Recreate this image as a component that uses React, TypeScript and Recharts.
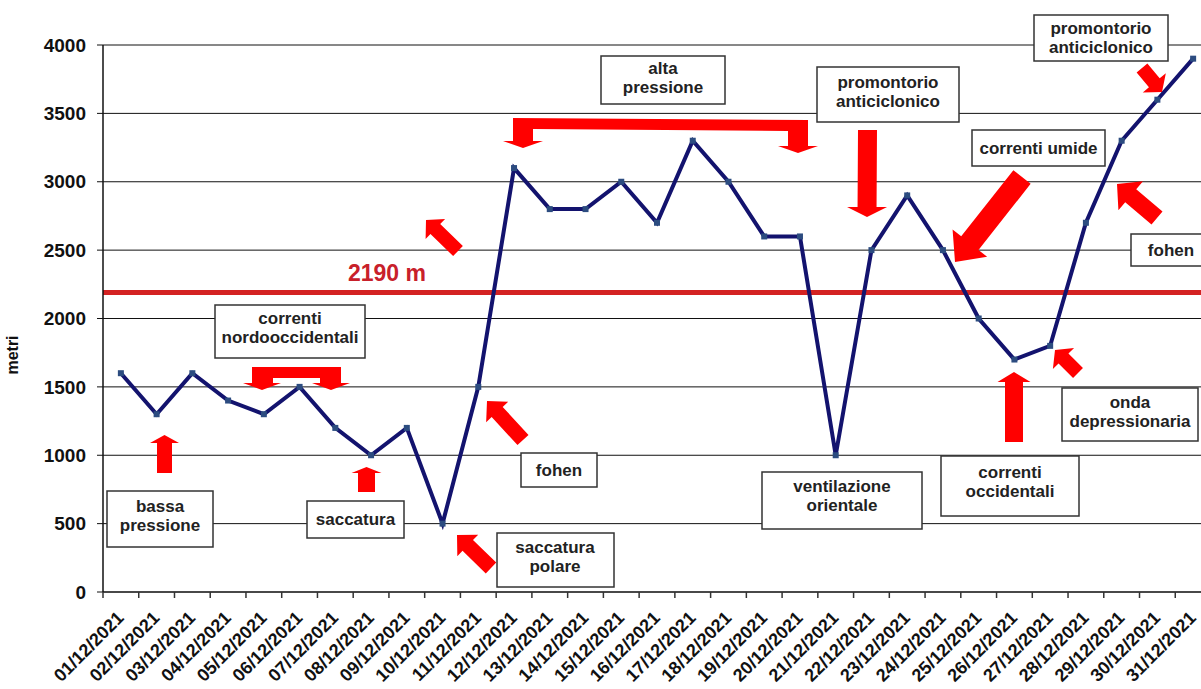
import React from 'react';
import { ComposedChart, Line, XAxis, YAxis, CartesianGrid, ReferenceLine } from 'recharts';

// daily values (metri)
const dates = [
  '01/12/2021', '02/12/2021', '03/12/2021', '04/12/2021', '05/12/2021', '06/12/2021', '07/12/2021',
  '08/12/2021', '09/12/2021', '10/12/2021', '11/12/2021', '12/12/2021', '13/12/2021', '14/12/2021',
  '15/12/2021', '16/12/2021', '17/12/2021', '18/12/2021', '19/12/2021', '20/12/2021', '21/12/2021',
  '22/12/2021', '23/12/2021', '24/12/2021', '25/12/2021', '26/12/2021', '27/12/2021', '28/12/2021',
  '29/12/2021', '30/12/2021', '31/12/2021',
];
const quota = [
  1600, 1300, 1600, 1400, 1300, 1500, 1200, 1000, 1200, 500, 1500, 3100, 2800, 2800, 3000, 2700,
  3300, 3000, 2600, 2600, 1000, 2500, 2900, 2500, 2000, 1700, 1800, 2700, 3300, 3600, 3900,
];
const yTicks = [0, 500, 1000, 1500, 2000, 2500, 3000, 3500, 4000];
const media = 2190;

const W = 1201;
const H = 689;
const LEFT = 103;
const RIGHT = -10; // the original plot runs past the right edge of the picture
const PLOT_W = W - LEFT - RIGHT;
const BAND = PLOT_W / dates.length;
const FONT = '"Liberation Sans", Arial, sans-serif';

const data = dates.map((d, i) => ({ date: d, m: quota[i] }));

const DateTick = (props: any) => {
  const { x, y, payload, index } = props;
  const last = index === dates.length - 1;
  return (
    <g>
      <line x1={x - BAND / 2} x2={x - BAND / 2} y1={y} y2={y + 6} stroke="#333" strokeWidth={1.5} />
      {last && <line x1={x + BAND / 2} x2={x + BAND / 2} y1={y} y2={y + 6} stroke="#333" strokeWidth={1.5} />}
      <text
        x={x + 4}
        y={y + 27}
        transform={`rotate(-45, ${x + 4}, ${y + 27})`}
        textAnchor="end"
        fontSize={18}
        fontWeight="bold"
        fontFamily={FONT}
        fill="#111"
      >
        {payload.value}
      </text>
    </g>
  );
};

const SquareDot = (props: any) => {
  const { cx, cy } = props;
  if (cx == null || cy == null) return null;
  return <rect x={cx - 3} y={cy - 3} width={6} height={6} fill="#2c4c80" />;
};

// block arrow from tail to tip
function arrow(tx: number, ty: number, px: number, py: number, sw: number, hw: number, hl: number) {
  const dx = px - tx;
  const dy = py - ty;
  const len = Math.hypot(dx, dy);
  const ux = dx / len;
  const uy = dy / len;
  const nx = -uy;
  const ny = ux;
  const bx = px - ux * hl;
  const by = py - uy * hl;
  const pts = [
    [tx + nx * sw / 2, ty + ny * sw / 2],
    [bx + nx * sw / 2, by + ny * sw / 2],
    [bx + nx * hw / 2, by + ny * hw / 2],
    [px, py],
    [bx - nx * hw / 2, by - ny * hw / 2],
    [bx - nx * sw / 2, by - ny * sw / 2],
    [tx - nx * sw / 2, ty - ny * sw / 2],
  ];
  return pts.map((p) => p.join(',')).join(' ');
}

const arrows = [
  arrow(164.5, 473, 164.5, 435, 15, 29, 8),
  arrow(366.5, 492, 366.5, 467, 17, 30, 6),
  arrow(1014, 442, 1014, 372, 18, 33, 10),
  arrow(867.5, 130, 867, 217, 19, 40, 10),
  arrow(458, 251, 426, 220, 14, 28, 13),
  arrow(523, 440, 487, 401, 15, 30, 15),
  arrow(491, 568, 457, 535, 15, 30, 15),
  arrow(1022, 177, 955, 262, 22, 44, 24),
  arrow(1142, 68, 1162, 92, 14, 30, 12),
  arrow(1157, 218, 1117, 184, 17, 38, 18),
  arrow(1078, 373, 1055, 350, 14, 30, 12),
];

const brackets = [
  '252,367 341,367 341,383 350,383 331,390 312,383 320,383 320,378 273,378 273,383 281,383 262,390 243,383 252,383',
  '513,118 808,120 808,146 818,146 798,153 778,146 788,146 788,131 533,129 533,141 543,141 523,148 503,141 513,141',
];

const boxes = [
  { x: 107, y: 491, w: 106, h: 56, cx: 160, base: 512, lines: ['bassa', 'pressione'] },
  { x: 215, y: 305, w: 150, h: 53, cx: 290, base: 324, lines: ['correnti', 'nordooccidentali'] },
  { x: 307, y: 501, w: 97, h: 37, cx: 355.5, base: 525, lines: ['saccatura'] },
  { x: 521, y: 453, w: 76, h: 34, cx: 559, base: 476, lines: ['fohen'] },
  { x: 497, y: 533, w: 117, h: 54, cx: 555, base: 553, lines: ['saccatura', 'polare'] },
  { x: 601, y: 56, w: 124, h: 48, cx: 663, base: 74, lines: ['alta', 'pressione'] },
  { x: 817, y: 67, w: 142, h: 55, cx: 888, base: 88, lines: ['promontorio', 'anticiclonico'] },
  { x: 1034, y: 15, w: 134, h: 46, cx: 1101, base: 34, lines: ['promontorio', 'anticiclonico'] },
  { x: 972, y: 130, w: 133, h: 36, cx: 1038.5, base: 154, lines: ['correnti umide'] },
  { x: 1131, y: 234, w: 75, h: 32, cx: 1171, base: 256, lines: ['fohen'] },
  { x: 1062, y: 388, w: 136, h: 53, cx: 1130, base: 408, lines: ['onda', 'depressionaria'] },
  { x: 941, y: 456, w: 138, h: 60, cx: 1010, base: 478, lines: ['correnti', 'occidentali'] },
  { x: 762, y: 472, w: 160, h: 57, cx: 842, base: 492, lines: ['ventilazione', 'orientale'] },
];

export default function App() {
  return (
    <div style={{ position: 'absolute', left: 0, top: 0, width: W, height: H, background: '#fff', overflow: 'hidden' }}>
      <ComposedChart width={W} height={H} data={data} margin={{ top: 45, right: RIGHT, left: 0, bottom: 0 }}>
        <CartesianGrid vertical={false} stroke="#111" strokeWidth={1} />
        <XAxis
          dataKey="date"
          interval={0}
          height={97}
          padding={{ left: BAND / 2, right: BAND / 2 }}
          tickLine={false}
          tickSize={0}
          tickMargin={0}
          axisLine={{ stroke: '#333', strokeWidth: 1.5 }}
          tick={<DateTick />}
        />
        <YAxis
          width={LEFT}
          domain={[0, 4000]}
          ticks={yTicks}
          interval={0}
          tickSize={6}
          tickMargin={11}
          axisLine={{ stroke: '#111', strokeWidth: 1.5 }}
          tickLine={{ stroke: '#111' }}
          tick={{ fontSize: 19, fontWeight: 'bold', fontFamily: FONT, fill: '#111' }}
        />
        <ReferenceLine
          y={media}
          stroke="#d42222"
          strokeWidth={5}
          label={(p: any) => (
            <text
              x={387}
              y={p.viewBox.y - 12}
              textAnchor="middle"
              fontSize={23}
              fontWeight="bold"
              fontFamily={FONT}
              fill="#c8202a"
            >
              {media} m
            </text>
          )}
        />
        <Line
          type="linear"
          dataKey="m"
          stroke="#13136e"
          strokeWidth={4}
          dot={<SquareDot />}
          activeDot={false}
          isAnimationActive={false}
        />
      </ComposedChart>
      <svg
        width={W}
        height={H}
        style={{ position: 'absolute', left: 0, top: 0, pointerEvents: 'none' }}
      >
        <text
          x={18}
          y={355}
          transform="rotate(-90, 18, 355)"
          textAnchor="middle"
          fontSize={16}
          fontWeight="bold"
          fontFamily={FONT}
          fill="#111"
        >
          metri
        </text>
        {brackets.map((b, i) => (
          <polygon key={'b' + i} points={b} fill="#ff0000" />
        ))}
        {arrows.map((a, i) => (
          <polygon key={'a' + i} points={a} fill="#ff0000" />
        ))}
        {boxes.map((b, i) => (
          <g key={'x' + i}>
            <rect x={b.x} y={b.y} width={b.w} height={b.h} fill="#fff" stroke="#333" strokeWidth={1.5} />
            {b.lines.map((t, j) => (
              <text
                key={j}
                x={b.cx}
                y={b.base + j * 19}
                textAnchor="middle"
                fontSize={17}
                fontWeight="bold"
                fontFamily={FONT}
                fill="#222"
              >
                {t}
              </text>
            ))}
          </g>
        ))}
      </svg>
    </div>
  );
}
